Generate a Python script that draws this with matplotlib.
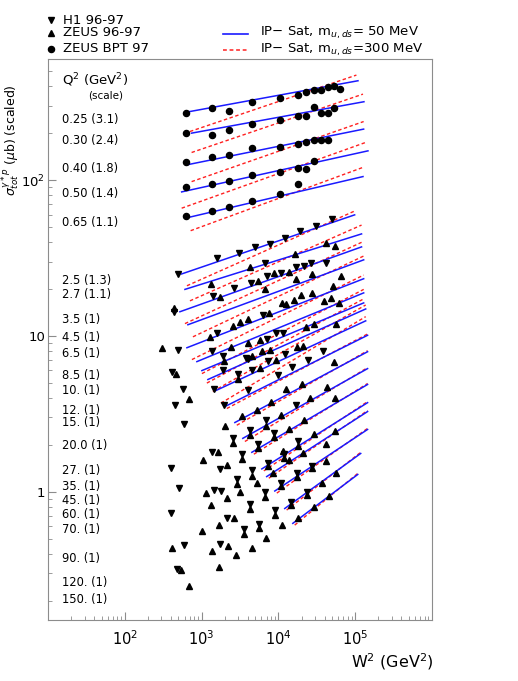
import numpy as np
import matplotlib
matplotlib.use("Agg")
import matplotlib.pyplot as plt
from matplotlib.lines import Line2D
from matplotlib.ticker import FixedLocator, NullFormatter, LogLocator

plt.rcParams['font.family'] = ['DejaVu Sans']
plt.rcParams['mathtext.fontset'] = 'dejavusans'

# ---- ZEUS BPT 97 (W^2 in GeV^2, sigma in mub, scaled) ----
bpt_w = [625, 1350, 2244, 4467, 10640, 17860, 23170, 29440, 35560, 44260, 53580, 62800,
         625, 1350, 2244, 4467, 10640, 17860, 23170, 29440, 35560, 44260, 53580,
         625, 1350, 2244, 4467, 10640, 17860, 23170, 29440, 35560, 44260,
         625, 1350, 2244, 4467, 10640, 17860, 23170, 29440, 17860,
         625, 1350, 2244, 4467, 10640]
bpt_sig = [272, 289, 278, 319, 335, 350, 371, 377, 381, 396, 402, 387,
           200, 195, 211, 230, 242, 259, 259, 293, 272, 272, 289,
           131, 140, 145, 161, 163, 170, 176, 180, 182, 180,
           90.6, 94.7, 98.6, 108, 112.5, 119.4, 118.2, 133.6, 94.7,
           59.2, 63.2, 67.3, 73.6, 81.3]

# ---- H1 96-97 ----
h1_w = [496, 1570, 3080, 4980, 7730, 12200, 18960, 30600, 49400,
        7000, 10700, 17200, 21400, 26900, 42200, 6650, 2650, 4340, 1390, 6210,
        1570, 496, 1350, 7000, 9440, 11500, 1910, 3960, 12100, 38100, 436,
        1910, 1460, 1970, 3960, 3770, 4600, 7430, 9910, 15200, 24300, 16800,
        415, 576, 450, 593, 1350, 1730, 399, 511, 1430, 1780, 399, 2130, 593,
        1750, 473,
        2580, 3370, 4510, 2850, 6710, 4246, 8970, 3580, 5610, 6860, 4246, 8790,
        5440, 18000, 2990, 7340, 10960, 14800, 11750, 17700, 23400, 27700]
h1_sig = [25.0, 31.8, 33.9, 37.3, 39.2, 42.8, 47.3, 50.9, 56.5,
          24.3, 25.5, 27.9, 28.2, 29.6, 29.4, 29.6, 20.3, 22.0, 18.1, 13.7,
          10.5, 8.07, 7.95, 9.56, 10.4, 10.4, 7.47, 7.15, 7.69, 7.95, 14.2,
          6.0, 4.58, 3.60, 4.48, 7.22, 6.08, 6.87, 5.59, 6.28, 7.05, 3.58,
          5.84, 4.58, 3.62, 2.74, 1.80, 1.40, 1.41, 1.06, 1.02, 1.01, 0.728, 0.674, 0.454,
          0.463, 0.318,
          2.21, 1.75, 1.37, 1.21, 0.993, 0.834, 0.764, 0.573, 0.621, 2.90, 2.48, 2.39,
          2.03, 2.11, 5.71, 1.53, 1.14, 0.853, 1.74, 1.31, 0.995, 1.46]

# ---- ZEUS 96-97 ----
zeus_w = [4246, 8710, 13600, 16300, 42200, 54100, 1320, 5440, 6790, 17200, 27700, 64700,
          1730, 11000, 16000, 19950, 27700, 51400, 436, 3148, 3960, 7570, 12700, 39200,
          49000, 60900, 1282, 2530, 2400, 3960, 5728, 23200, 29100, 56900, 6140, 7730,
          17700, 20600, 4600, 1970, 5730, 9250, 52900, 12700, 20300, 43500, 3310, 5280,
          8130, 25580, 55200, 10700, 21600, 13800, 29100, 55200, 41300, 11500,
          302, 463, 690, 2009, 1644, 1049, 2113, 1130, 2110, 1310, 2650, 1017, 1680,
          411, 2240, 1361, 2820, 538, 1690, 677, 4510, 3210, 5190, 11300, 6855,
          2580, 3370, 4510, 2850, 6710, 4246, 8970, 3580, 5610, 6860, 4246, 8790,
          5440, 18000, 2990, 7340, 10960, 14800, 11750, 17700, 23400, 27700,
          8530, 18200, 13800, 29100, 21200, 36600, 45600, 42200, 55700]
zeus_sig = [27.7, 25.3, 25.9, 33.6, 39.8, 37.9, 21.6, 22.4, 20.0, 23.3, 25.0, 24.3,
            17.7, 16.3, 17.1, 18.2, 19.0, 20.8, 15.2, 12.2, 12.8, 14.0, 16.0, 16.8,
            17.4, 16.2, 9.90, 11.5, 8.49, 8.97, 9.46, 11.4, 12.0, 11.9, 7.95, 8.16,
            8.49, 8.56, 7.40, 6.94, 6.23, 7.05, 6.81, 4.53, 4.94, 4.71, 3.06, 3.37,
            3.77, 3.98, 3.98, 3.10, 2.90, 2.52, 2.34, 2.44, 2.03, 1.82,
            8.37, 5.70, 3.91, 2.66, 1.80, 1.59, 1.48, 0.979, 0.905, 0.819, 0.674, 0.556, 0.613,
            0.432, 0.447, 0.418, 0.392, 0.313, 0.329, 0.249, 0.434, 1.00, 1.14, 0.610, 0.501,
            2.06, 1.63, 1.27, 1.12, 0.920, 0.775, 0.709, 0.533, 0.588, 2.66, 2.31, 2.25,
            1.91, 1.96, 5.31, 1.47, 1.09, 0.816, 1.65, 1.25, 0.950, 1.41,
            1.31, 0.674, 1.59, 0.800, 1.76, 1.13, 0.941, 1.57, 1.31]

# ---- IP-Sat curves: end points (W^2, sigma) per Q^2 bin ----
q2_bins = ['0.25', '0.30', '0.40', '0.50', '0.65', '2.5', '2.7', '3.5', '4.5', '6.5',
           '8.5', '10.', '12.', '15.', '20.0', '27.', '35.', '45.', '60.', '70.',
           '90.', '120.', '150.']
q2_scale = ['3.1', '2.4', '1.8', '1.4', '1.1', '1.3', '1.1'] + ['1'] * 16

blue_w0 = [650, 741, 638, 550, 720, 549, 607, 522, 663, 644, 868, 1009, 1207, 1534,
           2010, 2710, 3440, 4508, 6081, 7040, 8974, 12100, 15400]
blue_s0 = [274, 200.5, 125.4, 84.1, 58.1, 25.0, 19.9, 14.3, 11.8, 8.40, 6.84, 5.99, 5.25,
           4.46, 3.52, 2.78, 2.20, 1.79, 1.40, 1.25, 1.01, 0.780, 0.626]
blue_w1 = [108700, 130000, 128800, 146600, 126300, 98400, 121000, 121000, 129000, 129000,
           129000, 129000, 137000, 137000, 145000, 145000, 145000, 145000, 145000, 145000,
           145000, 118000, 108000]
blue_s1 = [435, 319, 212.8, 154.3, 105.5, 59.9, 45.2, 37.3, 30.8, 23.3, 18.9, 16.3, 14.9,
           12.5, 10.1, 7.92, 6.17, 4.88, 3.73, 3.27, 2.51, 1.76, 1.29]

red_w0 = [705, 741, 741, 550, 720, 644, 705, 607, 771, 748, 1009, 1170, 1400, 1780,
          2130, 2870, 3660, 4790, 6460, 7500, 9530, 12800, 16300]
red_s0 = [205.4, 150.6, 97.9, 66.1, 47.4, 21.0, 16.8, 12.0, 9.87, 7.05, 5.73, 4.98, 4.40,
          3.70, 3.42, 2.67, 2.10, 1.74, 1.36, 1.22, 0.979, 0.762, 0.610]
red_w1 = [103700, 126300, 128800, 142400, 128800, 98400, 121000, 121000, 129000, 129000,
          129000, 129000, 137000, 137000, 145000, 145000, 145000, 145000, 145000, 145000,
          145000, 118000, 108000]
red_s1 = [473, 357, 238, 176, 121.3, 63.4, 51.5, 39.9, 32.6, 24.6, 19.9, 17.3, 15.8,
          13.3, 10.3, 8.04, 6.26, 4.95, 3.79, 3.32, 2.55, 1.79, 1.31]

# label heights (axes fraction) for the Q^2 column
label_y = [0.893, 0.854, 0.804, 0.761, 0.708, 0.606, 0.581, 0.5365, 0.5036, 0.4742,
           0.4355, 0.4087, 0.3731, 0.3517, 0.3119, 0.2656, 0.2376, 0.2139, 0.1872,
           0.1617, 0.1093, 0.0672, 0.0357]

BLUE = '#1a1aff'
RED = '#ff2020'
GRAY = '#8c8c8c'

fig = plt.figure(figsize=(5.18, 6.81), dpi=100)
ax = fig.add_axes([48 / 518, 61 / 681, 384 / 518, 561 / 681])
ax.set_xscale('log')
ax.set_yscale('log')
ax.set_xlim(10, 1e6)
ax.set_ylim(0.15, 600)

for i in range(len(q2_bins)):
    ax.plot([red_w0[i], red_w1[i]], [red_s0[i], red_s1[i]], color=RED, lw=1.0,
            ls=(0, (2.5, 1.8)), zorder=2)
    ax.plot([blue_w0[i], blue_w1[i]], [blue_s0[i], blue_s1[i]], color=BLUE, lw=1.1, zorder=3)

ax.plot(bpt_w, bpt_sig, 'o', color='black', ms=4.4, ls='none', zorder=4)
ax.plot(h1_w, h1_sig, 'v', color='black', ms=4.2, ls='none', zorder=4)
ax.plot(zeus_w, zeus_sig, '^', color='black', ms=4.2, ls='none', zorder=4)

for sp in ax.spines.values():
    sp.set_color(GRAY)
ax.tick_params(which='both', direction='in', top=False, right=False, colors=GRAY,
               labelcolor='black', labelsize=10.5)
ax.tick_params(axis='y', labelsize=9.5, pad=2)
ax.tick_params(which='major', length=6, width=0.8)
ax.tick_params(which='minor', length=3, width=0.6)
ax.tick_params(axis='x', pad=7)
ax.xaxis.set_major_locator(FixedLocator([1e2, 1e3, 1e4, 1e5]))
ax.xaxis.set_minor_locator(LogLocator(base=10, subs=np.arange(2, 10), numticks=20))
ax.xaxis.set_minor_formatter(NullFormatter())
ax.set_xticklabels(['$10^2$', '$10^3$', '$10^4$', '$10^5$'])
ax.yaxis.set_major_locator(FixedLocator([1, 10, 100]))
ax.yaxis.set_minor_locator(LogLocator(base=10, subs=np.arange(2, 10), numticks=20))
ax.yaxis.set_minor_formatter(NullFormatter())
ax.set_yticklabels(['1', '10', '$10^2$'])

# Q^2 column
ax.text(0.036, 0.9626, r'Q$^2$ (GeV$^2$)', transform=ax.transAxes, fontsize=9.5,
        va='center', ha='left')
ax.text(0.105, 0.9358, '(scale)', transform=ax.transAxes, fontsize=7.5,
        va='center', ha='left')
for lab, sc, yy in zip(q2_bins, q2_scale, label_y):
    ax.text(0.036, yy, f'{lab} ({sc})', transform=ax.transAxes, fontsize=8.3,
            va='center', ha='left')

fig.text(11 / 518, 1 - 140 / 681, r'$\sigma^{\gamma*p}_{tot}$ ($\mu$b) (scaled)',
         rotation=90, va='center', ha='center', fontsize=9)
fig.text(392 / 518, 1 - 662 / 681, r'W$^2$ (GeV$^2$)', va='center', ha='center',
         fontsize=11.5)

# legend
leg_items = [('v', 'H1 96-97', 20), ('^', 'ZEUS 96-97', 33), ('o', 'ZEUS BPT 97', 49)]
for mk, txt, yy in leg_items:
    fig.add_artist(Line2D([51 / 518], [1 - yy / 681], marker=mk, color='black',
                          ms=4.5 if mk != 'o' else 4.4, ls='none'))
    fig.text(63 / 518, 1 - yy / 681, txt, va='center', ha='left', fontsize=9.5)
fig.add_artist(Line2D([223 / 518, 248 / 518], [1 - 34 / 681] * 2, color=BLUE, lw=1.2))
fig.add_artist(Line2D([223 / 518, 248 / 518], [1 - 50 / 681] * 2, color=RED, lw=1.1,
                      ls=(0, (2.5, 1.8))))
fig.text(260 / 518, 1 - 33 / 681, r'IP$-$ Sat, m$_{u,ds}$= 50 MeV', va='center',
         ha='left', fontsize=9.5)
fig.text(260 / 518, 1 - 50 / 681, r'IP$-$ Sat, m$_{u,ds}$=300 MeV', va='center',
         ha='left', fontsize=9.5)

fig.savefig('out.png', dpi=100)
